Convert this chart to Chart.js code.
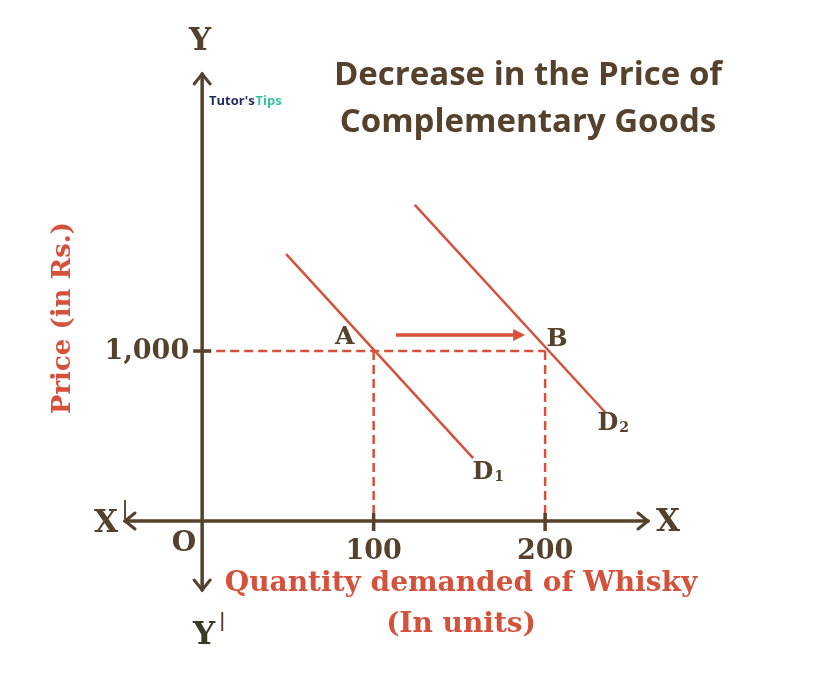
<!DOCTYPE html>
<html>
<head>
<meta charset="utf-8">
<script src="https://cdn.jsdelivr.net/npm/chart.js@4"></script>
<style>
  html, body { margin: 0; background: #fff; }
  #wrap { width: 821px; height: 673px; }
</style>
</head>
<body>
<div id="wrap"><canvas id="myChart"></canvas></div>
<script>
// Values (quantity in units, price in Rs.)
let qtyTicks = [100, 200];
let priceTicks = [1000];
let pointA = [100, 1000];
let pointB = [200, 1000];
let demandD1 = [[49, 1570], [158, 370]];
let demandD2 = [[124, 1860], [235, 640]];
let shiftArrow = [[113, 1094], [186, 1094]];

let brown = '#55412c';
let red = '#d4523c';
let serif = '"DejaVu Serif", serif';
let sans = '"Open Sans", "Noto Sans", sans-serif';

function pts(arr) {
  return arr.map(p => ({ x: p[0], y: p[1] }));
}

// Dashed guide lines from the equilibrium points
let guideH = [[0, priceTicks[0]], [pointB[0], pointB[1]]];
let guideA = [[pointA[0], pointA[1]], [pointA[0], 0]];
let guideB = [[pointB[0], pointB[1]], [pointB[0], 0]];

function text(ctx, str, x, y, font, color, align) {
  ctx.font = font;
  ctx.fillStyle = color;
  ctx.textAlign = align || 'center';
  ctx.textBaseline = 'middle';
  ctx.fillText(str, x, y);
}

function chevron(ctx, x, y, dx, dy, size) {
  // open arrow head pointing in direction (dx, dy)
  let px = -dy, py = dx;
  ctx.beginPath();
  ctx.moveTo(x - dx * size + px * size * 0.8, y - dy * size + py * size * 0.8);
  ctx.lineTo(x, y);
  ctx.lineTo(x - dx * size - px * size * 0.8, y - dy * size - py * size * 0.8);
  ctx.stroke();
}

let diagram = {
  id: 'diagram',
  afterDatasetsDraw(chart) {
    let ctx = chart.ctx;
    let x = chart.scales.x, y = chart.scales.y;
    let ox = x.getPixelForValue(0), oy = y.getPixelForValue(0);
    ctx.save();

    // axes
    ctx.strokeStyle = brown;
    ctx.lineWidth = 3.5;
    ctx.lineCap = 'round';
    ctx.beginPath();
    ctx.moveTo(x.left, oy); ctx.lineTo(x.right, oy);
    ctx.moveTo(ox, y.top); ctx.lineTo(ox, y.bottom);
    ctx.stroke();
    ctx.lineWidth = 3;
    chevron(ctx, x.right, oy, 1, 0, 10);
    chevron(ctx, x.left, oy, -1, 0, 10);
    chevron(ctx, ox, y.top, 0, -1, 10);
    chevron(ctx, ox, y.bottom, 0, 1, 10);

    // tick marks
    ctx.lineWidth = 3.5;
    ctx.lineCap = 'butt';
    qtyTicks.forEach(v => {
      let px = x.getPixelForValue(v);
      ctx.beginPath(); ctx.moveTo(px, oy - 8); ctx.lineTo(px, oy + 10); ctx.stroke();
      text(ctx, String(v), px, oy + 31, 'bold 27px ' + serif, brown);
    });
    priceTicks.forEach(v => {
      let py = y.getPixelForValue(v);
      ctx.beginPath(); ctx.moveTo(ox - 9, py); ctx.lineTo(ox + 9, py); ctx.stroke();
      text(ctx, v.toLocaleString('en-US'), ox - 13, py + 1, 'bold 27px ' + serif, brown, 'right');
    });

    // shift arrow head
    let tipX = x.getPixelForValue(shiftArrow[1][0]) + 4;
    let tipY = y.getPixelForValue(shiftArrow[1][1]);
    ctx.fillStyle = red;
    ctx.beginPath();
    ctx.moveTo(tipX, tipY);
    ctx.lineTo(tipX - 12, tipY - 6);
    ctx.lineTo(tipX - 12, tipY + 6);
    ctx.closePath();
    ctx.fill();

    // axis letters
    let big = 'bold 31px ' + serif;
    text(ctx, 'Y', ox - 2, 42, big, brown);
    text(ctx, 'Y', ox + 2, 636, big, '#3b3a24');
    text(ctx, '|', ox + 20, 621, 'bold 18px ' + serif, brown);
    text(ctx, 'X', 668, oy + 2, big, brown);
    text(ctx, 'X', 106, oy + 3, big, brown);
    text(ctx, '|', 125, oy - 12, 'bold 18px ' + serif, brown);
    text(ctx, 'O', 184, oy + 23, 'bold 28px ' + serif, brown);

    // point and curve labels
    let mid = 'bold 25px ' + serif;
    text(ctx, 'A', x.getPixelForValue(pointA[0]) - 29, y.getPixelForValue(pointA[1]) - 14, mid, brown);
    text(ctx, 'B', x.getPixelForValue(pointB[0]) + 12, y.getPixelForValue(pointB[1]) - 12, mid, brown);
    text(ctx, 'D', 483, 473, 'bold 24px ' + serif, brown);
    text(ctx, '1', 499, 477, 'bold 14px ' + serif, brown);
    text(ctx, 'D', 608, 424, 'bold 24px ' + serif, brown);
    text(ctx, '2', 624, 428, 'bold 14px ' + serif, brown);

    // title
    text(ctx, 'Decrease in the Price of', 528, 76, 'bold 33px ' + sans, brown);
    text(ctx, 'Complementary Goods', 528, 123, 'bold 33px ' + sans, brown);

    // axis titles
    text(ctx, 'Quantity demanded of Whisky', 461, 584, 'bold 28px ' + serif, red);
    text(ctx, '(In units)', 461, 625, 'bold 28px ' + serif, red);
    ctx.save();
    ctx.translate(63, 318);
    ctx.rotate(-Math.PI / 2);
    text(ctx, 'Price (in Rs.)', 0, 0, 'bold 26px ' + serif, red);
    ctx.restore();

    // watermark
    ctx.font = 'bold 13px ' + sans;
    ctx.textAlign = 'left';
    ctx.textBaseline = 'middle';
    ctx.fillStyle = '#1f2a5e';
    ctx.fillText("Tutor's", 209, 101);
    let w = ctx.measureText("Tutor's").width;
    ctx.fillStyle = '#3cbf9f';
    ctx.fillText('Tips', 209 + w + 1, 101);

    ctx.restore();
  }
};

let lineStyle = { showLine: true, pointRadius: 0, borderColor: red, fill: false };

new Chart(document.getElementById('myChart').getContext('2d'), {
  type: 'scatter',
  data: {
    datasets: [
      Object.assign({ label: 'guide price', data: pts(guideH), borderWidth: 2.5, borderDash: [9, 5] }, lineStyle),
      Object.assign({ label: 'guide A', data: pts(guideA), borderWidth: 2.5, borderDash: [9, 5] }, lineStyle),
      Object.assign({ label: 'guide B', data: pts(guideB), borderWidth: 2.5, borderDash: [9, 5] }, lineStyle),
      Object.assign({ label: 'D1', data: pts(demandD1), borderWidth: 2.5 }, lineStyle),
      Object.assign({ label: 'D2', data: pts(demandD2), borderWidth: 2.5 }, lineStyle),
      Object.assign({ label: 'shift', data: pts(shiftArrow), borderWidth: 3.5 }, lineStyle)
    ]
  },
  options: {
    responsive: true,
    maintainAspectRatio: false,
    animation: false,
    layout: { padding: { left: 125, right: 173, top: 74, bottom: 83 } },
    scales: {
      x: { type: 'linear', min: -45, max: 260, display: false },
      y: { type: 'linear', min: -406, max: 2630, display: false }
    },
    plugins: { legend: { display: false }, tooltip: { enabled: false } }
  },
  plugins: [diagram]
});
</script>
</body>
</html>
